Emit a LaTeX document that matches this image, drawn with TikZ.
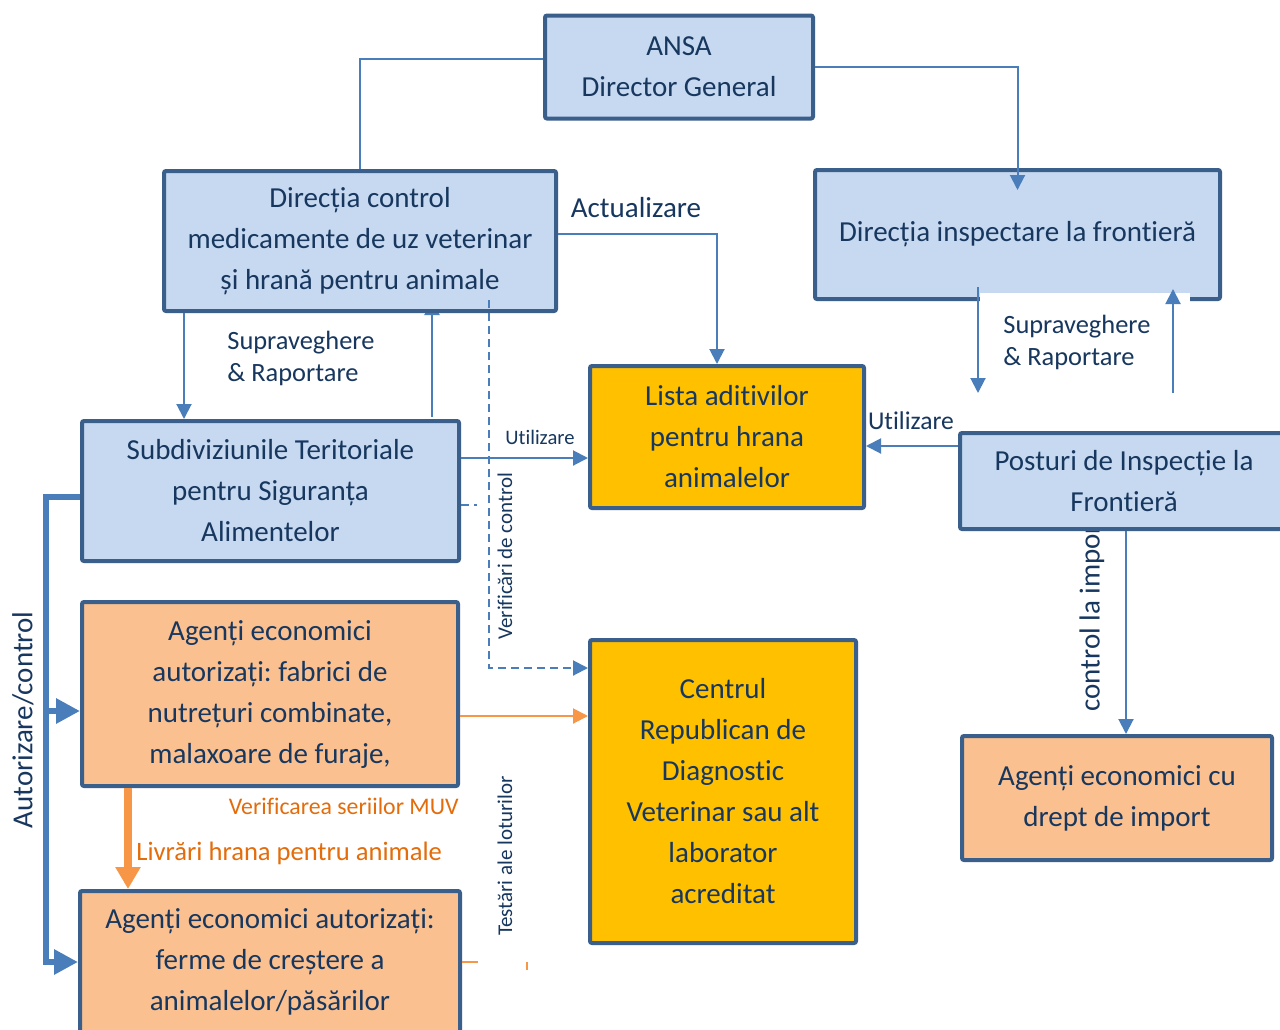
\documentclass[tikz,border=0pt]{standalone}
\usepackage{fontspec}
\setmainfont{Carlito}[Ligatures=NoCommon, RawFeature={-liga;-clig;-dlig}]
\usetikzlibrary{arrows.meta}
\frenchspacing
\definecolor{bordercol}{HTML}{3A5F8B}
\definecolor{bluefill}{HTML}{C6D9F1}
\definecolor{orangefill}{HTML}{FAC090}
\definecolor{yellowfill}{HTML}{FFC000}
\definecolor{textcol}{HTML}{17375E}
\definecolor{conncol}{HTML}{4A7EBB}
\definecolor{orangeline}{HTML}{F79646}
\definecolor{orangetext}{HTML}{E46C0A}
\tikzset{
  box/.style={draw=bordercol, line width=2pt, rounded corners=1pt, inner sep=0pt,
    align=center, text=textcol, font={\fontsize{14.5pt}{20.5pt}\selectfont}},
  bluebox/.style={box, fill=bluefill},
  orangebox/.style={box, fill=orangefill},
  yellowbox/.style={box, fill=yellowfill},
  conn/.style={draw=conncol, line width=1pt},
  arr/.style={-{Triangle[length=7.5pt,width=7.5pt]}},
  dashconn/.style={conn, dash pattern=on 4pt off 2.5pt},
  bigconn/.style={draw=conncol, line width=3pt},
  bigarr/.style={-{Triangle[length=12pt,width=12pt]}},
  orangethick/.style={draw=orangeline, line width=4pt, -{Triangle[length=11pt,width=12pt]}},
  orangethin/.style={draw=orangeline, line width=1pt},
  lbl/.style={text=textcol, inner sep=0pt},
  olbl/.style={text=orangetext, inner sep=0pt}
}
\begin{document}
\frenchspacing
\begin{tikzpicture}[x=0.5pt,y=-0.5pt]
\fill[white] (0,0) rectangle (1280,1029);
\useasboundingbox (0,0) rectangle (1280,1029);

% labels that lie under boxes
\node[lbl, rotate=90, anchor=west, font={\fontsize{14.5pt}{17pt}\selectfont}] (lctrl) at (1092,712) {control la import};

% connector hidden partly by box
\coordinate (c5start) at (432,417);
\coordinate (c5end) at (432,300);
\draw[conn, arr] (c5start) -- (c5end);

% boxes
\node[bluebox, minimum width=134pt, minimum height=51.5pt] (ansa) at (679,67) {ANSA\\Director General};
\node[bluebox, minimum width=196pt, minimum height=70pt] (dcontrol) at (360,241) {Direcția control\\medicamente de uz veterinar\\și hrană pentru animale};
\node[bluebox, minimum width=202.5pt, minimum height=64.5pt] (dinsp) at (1017.5,234.5) {Direcția inspectare la frontieră};
\node[bluebox, minimum width=188.5pt, minimum height=70pt] (subdiv) at (270.5,491) {Subdiviziunile Teritoriale\\pentru Siguranța\\Alimentelor};
\node[yellowbox, minimum width=137pt, minimum height=71pt] (lista) at (727,437) {Lista aditivilor\\pentru hrana\\animalelor};
\node[bluebox, minimum width=164pt, minimum height=48pt] (posturi) at (1124,481) {Posturi de Inspecție la\\Frontieră};
\node[orangebox, minimum width=188pt, minimum height=92pt] (fabrici) at (270,694) {Agenți economici\\autorizați: fabrici de\\nutrețuri combinate,\\malaxoare de furaje,};
\node[yellowbox, minimum width=133pt, minimum height=151.5pt] (centru) at (723,791.5) {Centrul\\Republican de\\Diagnostic\\Veterinar sau alt\\laborator\\acreditat};
\node[orangebox, minimum width=155pt, minimum height=62pt] (import) at (1117,798) {Agenți economici cu\\drept de import};
\node[orangebox, minimum width=190pt, minimum height=71pt] (ferme) at (270,962) {Agenți economici autorizați:\\ferme de creștere a\\animalelor/păsărilor};

% white label area covering the lower border of dinsp
\fill[white] (980,293) rectangle (1190,306);

% connectors
\draw[conn] (ansa.west |- 0,59) -| (dcontrol.north);
\draw[conn, arr] (ansa.east) -| (dinsp.north |- 0,190);
\draw[conn, arr] (dcontrol.east |- 0,234) -| (717,0 |- lista.north);
\draw[conn, arr] (184,0 |- dcontrol.south) -- (184,0 |- subdiv.north);
\coordinate (vstart) at (489,300);
\draw[dashconn, arr] (vstart) |- (centru.west |- 0,668);
\draw[conn, arr] (subdiv.east |- 0,458) -- (lista.west |- 0,458);
\coordinate (stubend) at (477,505);
\draw[dashconn] (subdiv.east |- 0,505) -- (stubend);
\coordinate (dstart) at (978,287);
\coordinate (dend) at (978,393);
\draw[conn, arr] (dstart) -- (dend);
\coordinate (ustart) at (1173,393);
\coordinate (uend) at (1173,289);
\draw[conn, arr] (ustart) -- (uend);
\draw[conn, arr] (posturi.west |- 0,446) -- (lista.east |- 0,446);
\draw[conn, arr] (1126,0 |- posturi.south) -- (1126,0 |- import.north);

% Autorizare/control
\coordinate (acorner) at (46,962);
\coordinate (abranch) at (46,711);
\draw[bigconn, bigarr] (subdiv.west |- 0,497) -| (acorner) -- (ferme.west |- acorner);
\draw[bigconn, bigarr] (abranch) -- (fabrici.west |- abranch);

% orange connectors
\draw[orangethick] (128,0 |- fabrici.south) -- (128,0 |- ferme.north);
\draw[orangethin, arr] (fabrici.east |- 0,716) -- (centru.west |- 0,716);
\coordinate (ostub) at (478,962);
\draw[orangethin] (ferme.east |- ostub) -- (ostub);
\coordinate (otick1) at (527,962);
\coordinate (otick2) at (527,970);
\draw[orangethin] (otick1) -- (otick2);

% labels
\node[lbl, font={\fontsize{14.5pt}{17pt}\selectfont}] (lact) at (636,208) {Actualizare};
\node[lbl, align=left, anchor=west, font={\fontsize{13.2pt}{16pt}\selectfont}] (lsup1) at (227,358) {Supraveghere\\\& Raportare};
\node[lbl, align=left, anchor=west, font={\fontsize{13.2pt}{16pt}\selectfont}] (lsup2) at (1003,342) {Supraveghere\\\& Raportare};
\node[lbl, font={\fontsize{10.3pt}{12pt}\selectfont}] (lut1) at (540,437) {Utilizare};
\node[lbl, font={\fontsize{12.8pt}{15pt}\selectfont}] (lut2) at (911,421) {Utilizare};
\node[lbl, rotate=90, font={\fontsize{10.5pt}{12pt}\selectfont}] (lverif) at (505,556) {Verificări de control};
\node[lbl, rotate=90, font={\fontsize{10.5pt}{12pt}\selectfont}] (ltest) at (505,856) {Testări ale loturilor};
\node[lbl, rotate=90, font={\fontsize{14.5pt}{17pt}\selectfont}] (laut) at (23,720) {Autorizare/control};
\node[olbl, anchor=east, font={\fontsize{11.9pt}{14pt}\selectfont}] (lmuv) at (459,806) {Verificarea seriilor MUV};
\node[olbl, anchor=west, font={\fontsize{13.3pt}{16pt}\selectfont}] (lliv) at (136,853) {Livrări hrana pentru animale};
\end{tikzpicture}
\end{document}
